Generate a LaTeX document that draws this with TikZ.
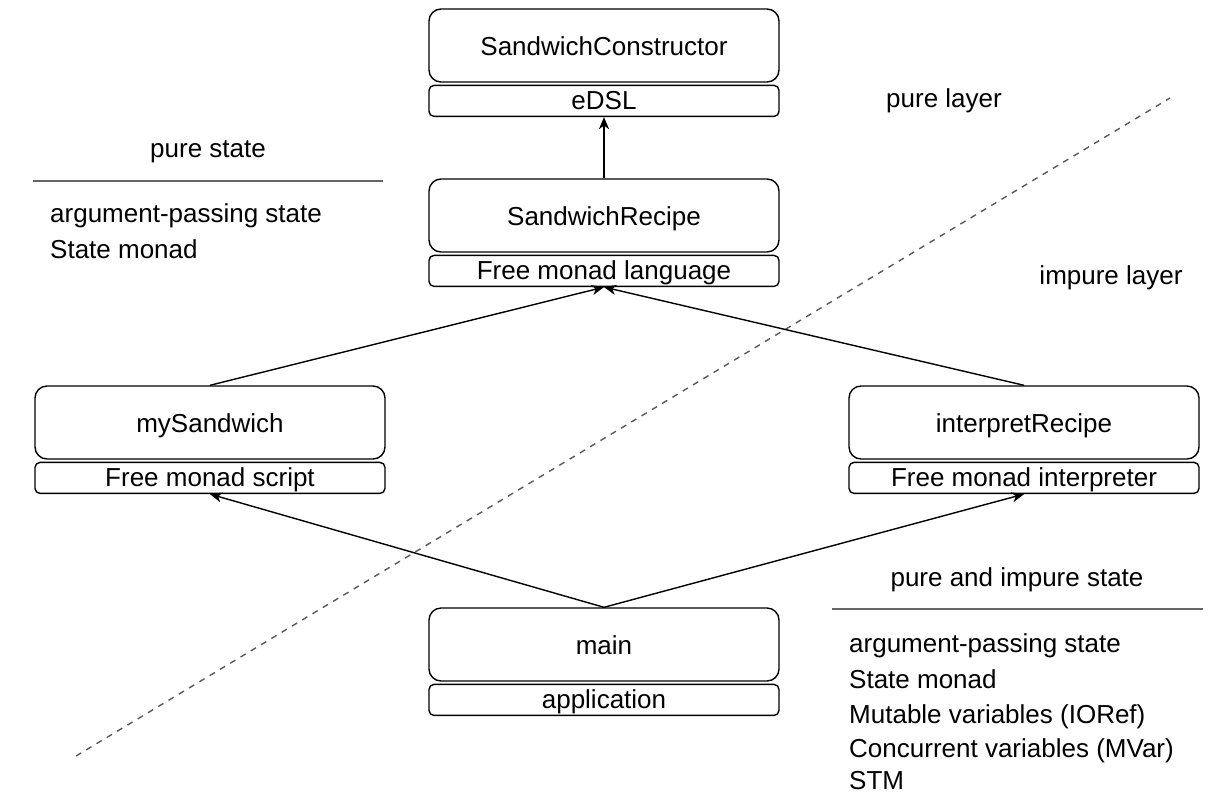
\documentclass[tikz,border=0pt]{standalone}
\usepackage{fontspec}
\setmainfont{Liberation Sans}
\usetikzlibrary{arrows.meta, positioning}
\tikzstyle{module} = [rectangle, draw, rounded corners=12pt, text centered, minimum width=350pt, minimum height=73pt, inner sep=0pt, line width=1.4pt, text height=24pt, text depth=5pt]
\tikzstyle{role} = [rectangle, draw, rounded corners=5pt, text centered, minimum width=350pt, minimum height=31pt, inner sep=0pt, line width=1.4pt, text height=23pt, text depth=6pt]
\tikzstyle{connector} = [draw, line width=1.4pt, -{Stealth[length=12pt, width=10pt, inset=3.5pt]}]
\tikzstyle{divider} = [draw, line width=1.4pt, black!60]
\tikzstyle{boundary} = [draw, line width=1.4pt, black!65, dash pattern=on 6pt off 6pt]
\tikzstyle{heading} = [anchor=base, inner sep=0pt]
\tikzstyle{item} = [anchor=base west, inner sep=0pt]

\begin{document}
\begin{tikzpicture}[x=1pt, y=-1pt, font=\fontsize{26}{31}\selectfont, node distance=2pt]
      \useasboundingbox (0,0) rectangle (1214,793);
      % Layer boundary
      \coordinate (bound_start) at (76,756);
      \coordinate (bound_end) at (1170,98);
      \draw [boundary] (bound_start) -- (bound_end);
      \node (pure_layer) [heading] at (944,107) {pure layer};
      \node (impure_layer) [heading] at (1111,284) {impure layer};

      % Define modules
      \node (constructor) [module] at (604,45.5) {SandwichConstructor};
      \node (constructor_role) [role, below=of constructor] {eDSL};
      \node (recipe) [module] at (604,215.5) {SandwichRecipe};
      \node (recipe_role) [role, below=of recipe] {Free monad language};
      \node (script) [module] at (210,422.5) {mySandwich};
      \node (script_role) [role, below=of script] {Free monad script};
      \node (interpreter) [module] at (1024,422.5) {interpretRecipe};
      \node (interpreter_role) [role, below=of interpreter] {Free monad interpreter};
      \node (main) [module] at (604,644.5) {main};
      \node (main_role) [role, below=of main] {application};

      % Pure state notes
      \node (pure_state) [heading] at (208,157) {pure state};
      \coordinate (pure_rule_l) at (33,181);
      \coordinate (pure_rule_r) at (383,181);
      \draw [divider] (pure_rule_l) -- (pure_rule_r);
      \node (pure_arg) [item] at (50,222) {argument-passing state};
      \node (pure_monad) [item] at (50,258) {State monad};

      % Pure and impure state notes
      \node (mixed_state) [heading] at (1017,586) {pure and impure state};
      \coordinate (mixed_rule_l) at (832,609);
      \coordinate (mixed_rule_r) at (1203,609);
      \draw [divider] (mixed_rule_l) -- (mixed_rule_r);
      \node (mixed_arg) [item] at (849,652) {argument-passing state};
      \node (mixed_monad) [item] at (849,688) {State monad};
      \node (mixed_ioref) [item] at (849,723) {Mutable variables (IORef)};
      \node (mixed_mvar) [item] at (849,757) {Concurrent variables (MVar)};
      \node (mixed_stm) [item] at (849,789) {STM};

      % Draw connectors
      \draw [connector] (recipe) -- (constructor_role);
      \draw [connector] (script.north) -- (recipe_role.south);
      \draw [connector] (interpreter.north) -- (recipe_role.south);
      \draw [connector] (main.north) -- (script_role.south);
      \draw [connector] (main.north) -- (interpreter_role.south);
\end{tikzpicture}
\end{document}
